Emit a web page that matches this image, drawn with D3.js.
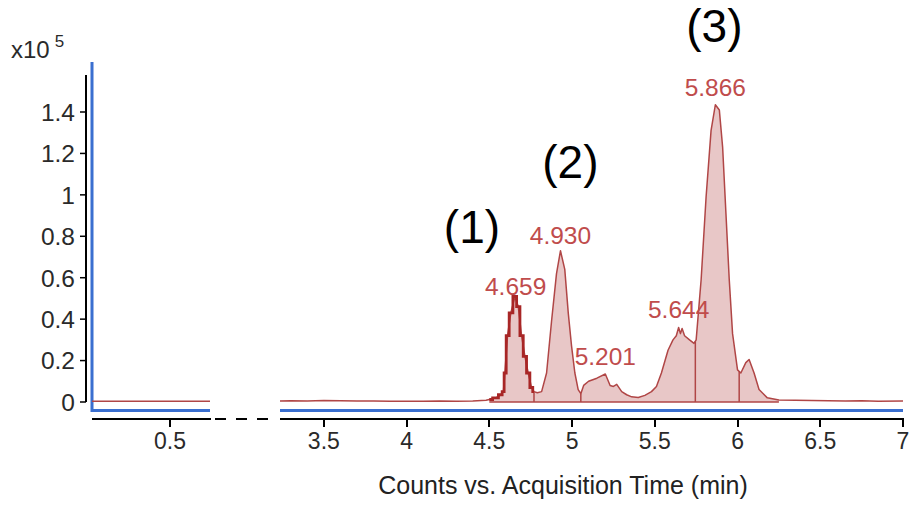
<!DOCTYPE html>
<html>
<head>
<meta charset="utf-8">
<script src="https://cdn.jsdelivr.net/npm/d3@7"></script>
<style>
  html, body { margin: 0; padding: 0; background: #fff; overflow: hidden; }
  svg { display: block; font-family: Arial, "Liberation Sans", sans-serif; }
</style>
</head>
<body>
<svg id="chart" width="919" height="510"></svg>
<script>
// Retention time (min) and intensity (x10^5 counts) of the chromatogram trace
const traceTime = [3.235, 3.30, 3.40, 3.50, 3.60, 3.70, 3.80, 3.90, 4.00, 4.10, 4.20, 4.30, 4.40, 4.48,
  4.50, 4.54, 4.57, 4.585, 4.594, 4.61, 4.63, 4.655, 4.675, 4.695, 4.715, 4.735, 4.755, 4.77,
  4.79, 4.816, 4.846, 4.876, 4.906, 4.930, 4.956, 4.977, 4.997, 5.017, 5.037, 5.053,
  5.07, 5.10, 5.15, 5.201, 5.23, 5.25, 5.27, 5.30, 5.33, 5.36, 5.40, 5.44, 5.48, 5.51, 5.54,
  5.58, 5.61, 5.63, 5.644, 5.655, 5.665, 5.68, 5.71, 5.737, 5.75, 5.78, 5.81, 5.84, 5.866,
  5.89, 5.91, 5.93, 5.95, 5.97, 6.00, 6.02, 6.05, 6.07, 6.10, 6.13, 6.18, 6.25, 6.35, 6.45,
  6.55, 6.65, 6.75, 6.85, 7.00];
const traceCounts = [0.005, 0.006, 0.005, 0.007, 0.006, 0.005, 0.005, 0.004, 0.004, 0.004, 0.005, 0.004, 0.005, 0.008,
  0.012, 0.02, 0.035, 0.05, 0.14, 0.32, 0.43, 0.51, 0.46, 0.32, 0.22, 0.14, 0.07, 0.05,
  0.045, 0.05, 0.14, 0.39, 0.62, 0.73, 0.64, 0.43, 0.27, 0.14, 0.06, 0.04,
  0.08, 0.10, 0.115, 0.135, 0.08, 0.075, 0.085, 0.05, 0.035, 0.025, 0.022, 0.032, 0.05, 0.075, 0.14,
  0.25, 0.30, 0.32, 0.36, 0.33, 0.355, 0.32, 0.30, 0.283, 0.30, 0.59, 0.99, 1.31, 1.435,
  1.41, 1.23, 0.91, 0.59, 0.33, 0.155, 0.14, 0.19, 0.205, 0.14, 0.06, 0.02, 0.01, 0.008, 0.007,
  0.006, 0.005, 0.006, 0.004, 0.005];

// Early part of the run shown in the left panel
const earlyTime = [0.029, 0.742];
const earlyCounts = [0.004, 0.004];

// Integrated region, selected peak and split points between integrated peaks
const integratedRange = [4.50, 6.25];
const selectedPeakRange = [4.50, 4.77];
const splitTimes = [4.77, 5.053, 5.745, 6.01];

// Peak apex labels
const peakLabels = ["4.659", "4.930", "5.201", "5.644", "5.866"];

// Compound annotations: text, time and height (x10^5) of their baseline
const compoundNames = ["(1)", "(2)", "(3)"];
const compoundTime = [4.395, 4.99, 5.86];
const compoundLevel = [0.767, 1.08, 1.74];

// Axis ticks
const yTicks = [0, 0.2, 0.4, 0.6, 0.8, 1, 1.2, 1.4];
const leftTicks = [0.5];
const rightTicks = [3.5, 4, 4.5, 5, 5.5, 6, 6.5, 7];

const svg = d3.select("#chart");
const FONT = "Arial, 'Liberation Sans', sans-serif";
const fmt = d3.format("~g");

const y = d3.scaleLinear().domain([0, 1.4]).range([402, 112]);
const xLeft = d3.scaleLinear().domain(earlyTime).range([92, 210]);
const xRight = d3.scaleLinear().domain([3.235, 7]).range([280, 903]);

const points = traceTime.map((t, i) => ({ t, v: traceCounts[i] }));
const valueAt = d3.scaleLinear().domain(traceTime).range(traceCounts);

const lineColor = "#b04646";
const fillColor = "#e8c7c7";
const labelColor = "#c04c4c";
const blue = "#3a6fd0";
const ink = "#000";
const AXIS_Y = 419;

// blue frame
svg.append("rect").attr("x", 90.5).attr("y", 62).attr("width", 3).attr("height", 350)
  .attr("fill", blue);
[xLeft, xRight].forEach(s => {
  svg.append("rect").attr("x", s.range()[0]).attr("y", 409).attr("width", s.range()[1] - s.range()[0])
    .attr("height", 3).attr("fill", blue);
});

// ---- y axis ----
svg.append("rect").attr("x", 85).attr("y", 75).attr("width", 2).attr("height", y(0) - 75)
  .attr("fill", ink);
svg.selectAll(null).data(yTicks).join("rect")
  .attr("x", 80).attr("y", d => y(d) - 0.75).attr("width", 6).attr("height", 1.5)
  .attr("fill", ink);
svg.selectAll(null).data(yTicks).join("text")
  .attr("x", 75).attr("y", d => y(d)).attr("dy", "0.36em").attr("text-anchor", "end")
  .attr("fill", "#2a2a2a").style("font-size", "24.5px").style("font-family", FONT)
  .text(fmt);

// exponent label
const expo = svg.append("text").attr("x", 11).attr("y", 58).attr("fill", "#2a2a2a")
  .style("font-size", "24px").style("font-family", FONT);
expo.append("tspan").text("x10");
expo.append("tspan").attr("dx", 5).attr("dy", -11).style("font-size", "17px").text("5");

// ---- integrated area ----
const inRange = points.filter(p => p.t >= integratedRange[0] && p.t <= integratedRange[1]);
svg.append("path").datum(inRange)
  .attr("d", d3.area().x(d => xRight(d.t)).y0(y(0)).y1(d => y(d.v)))
  .attr("fill", fillColor);

// integration baseline
svg.append("line").attr("x1", xRight(integratedRange[0])).attr("x2", xRight(integratedRange[1]))
  .attr("y1", y(0)).attr("y2", y(0)).attr("stroke", lineColor).attr("stroke-width", 1.6);

// split markers
svg.selectAll(".split").data(splitTimes).join("line").attr("class", "split")
  .attr("x1", d => xRight(d)).attr("x2", d => xRight(d))
  .attr("y1", y(0)).attr("y2", d => y(valueAt(d)))
  .attr("stroke", lineColor).attr("stroke-width", 1.5);

// ---- traces ----
const line = d3.line().x(d => xRight(d.t)).y(d => y(d.v));
svg.append("path").datum(points).attr("d", line)
  .attr("fill", "none").attr("stroke", lineColor).attr("stroke-width", 1.5)
  .attr("stroke-linejoin", "round");

const early = earlyTime.map((t, i) => ({ t, v: earlyCounts[i] }));
svg.append("path").datum(early)
  .attr("d", d3.line().x(d => xLeft(d.t)).y(d => y(d.v)))
  .attr("fill", "none").attr("stroke", lineColor).attr("stroke-width", 1.5);

// selected peak, stepped and emphasised
const selected = points.filter(p => p.t >= selectedPeakRange[0] && p.t <= selectedPeakRange[1]);
svg.append("path").datum(selected)
  .attr("d", d3.line().curve(d3.curveStep).x(d => xRight(d.t)).y(d => y(d.v)))
  .attr("fill", "none").attr("stroke", "#a82626").attr("stroke-width", 2.8);

// ---- peak labels (sit just above each apex) ----
const labelLift = [1, 7, 9, 9, 9];
svg.selectAll(".peak").data(peakLabels).join("text").attr("class", "peak")
  .attr("x", d => xRight(+d))
  .attr("y", (d, i) => {
    const near = points.filter(p => Math.abs(p.t - +d) < 0.03);
    return y(d3.max(near, p => p.v)) - labelLift[i];
  })
  .attr("text-anchor", "middle").attr("fill", labelColor)
  .style("font-size", "24.5px").style("font-family", FONT)
  .text(d => d);

// ---- compound annotations ----
svg.selectAll(".cmpd").data(compoundNames).join("text").attr("class", "cmpd")
  .attr("x", (d, i) => xRight(compoundTime[i]))
  .attr("y", (d, i) => y(compoundLevel[i]))
  .attr("text-anchor", "middle").attr("fill", "#000")
  .style("font-size", "46px").style("font-family", FONT)
  .text(d => d);

// ---- x axis lines and tick marks for both panels (stroked and filled) ----
const axisLayer = svg.append("g").attr("class", "x-axis-lines");
[[xLeft, leftTicks], [xRight, rightTicks]].forEach(([scale, ticks]) => {
  const [r0, r1] = scale.range();
  axisLayer.append("line").attr("x1", r0).attr("x2", r1 + 0.5)
    .attr("y1", AXIS_Y).attr("y2", AXIS_Y)
    .attr("stroke", ink).attr("stroke-width", 2).attr("shape-rendering", "crispEdges");
  axisLayer.selectAll(null).data(ticks).join("line")
    .attr("x1", d => scale(d)).attr("x2", d => scale(d))
    .attr("y1", AXIS_Y).attr("y2", AXIS_Y + 8)
    .attr("stroke", ink).attr("stroke-width", 2).attr("shape-rendering", "crispEdges");
});
// axis break
axisLayer.append("line").attr("x1", 215).attr("x2", 268).attr("y1", AXIS_Y).attr("y2", AXIS_Y)
  .attr("stroke", ink).attr("stroke-width", 2).attr("stroke-dasharray", "11,10")
  .attr("shape-rendering", "crispEdges");

// x tick labels
[[xLeft, leftTicks], [xRight, rightTicks]].forEach(([scale, ticks]) => {
  svg.selectAll(null).data(ticks).join("text")
    .attr("x", d => scale(d)).attr("y", AXIS_Y + 30)
    .attr("text-anchor", "middle").attr("fill", "#2a2a2a")
    .style("font-size", "23px").style("font-family", FONT)
    .text(fmt);
});

// ---- axis title ----
svg.append("text").attr("x", 563).attr("y", 494).attr("text-anchor", "middle")
  .attr("fill", "#222").style("font-size", "25px").style("font-family", FONT)
  .text("Counts vs. Acquisition Time (min)");
</script>
</body>
</html>
